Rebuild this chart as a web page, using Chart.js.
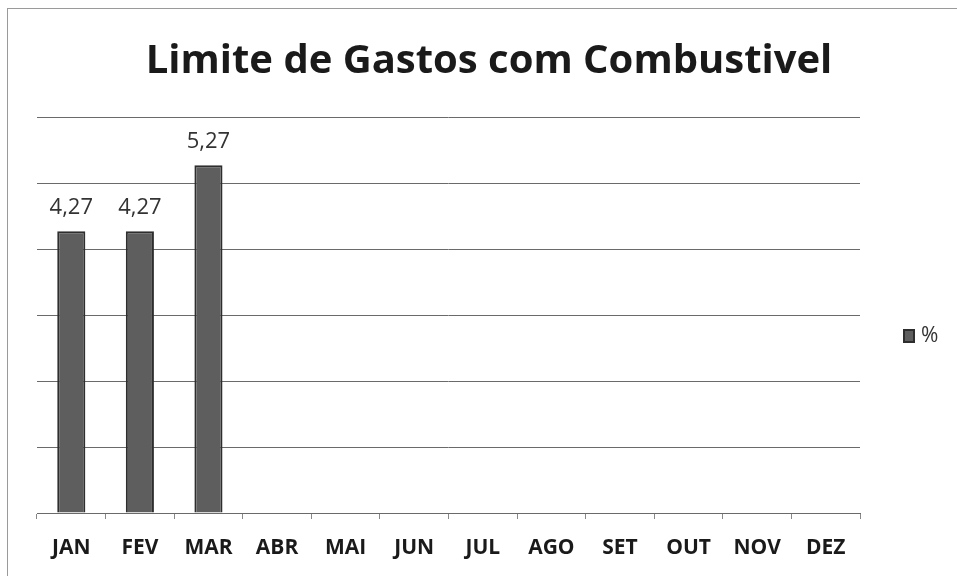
<!DOCTYPE html>
<html>
<head>
<meta charset="utf-8">
<script src="https://cdn.jsdelivr.net/npm/chart.js@4/dist/chart.umd.min.js"></script>
<style>
    body { margin: 0; background: #fff; }
    #wrap { position: relative; width: 957px; height: 576px; }
    #frame {
        position: absolute; left: 7px; top: 8px; right: -2px; bottom: -2px;
        border-left: 1px solid #9a9a9a; border-top: 1px solid #9a9a9a;
        pointer-events: none;
    }
</style>
</head>
<body>
<div id="wrap">
    <canvas id="gastosChart" width="957" height="576"></canvas>
    <div id="frame"></div>
</div>
<script>
const months = ['JAN', 'FEV', 'MAR', 'ABR', 'MAI', 'JUN', 'JUL', 'AGO', 'SET', 'OUT', 'NOV', 'DEZ'];
const percent = [4.27, 4.27, 5.27, null, null, null, null, null, null, null, null, null];
const yTicks = [0, 1, 2, 3, 4, 5, 6];
const seriesName = '%';
const chartTitle = 'Limite de Gastos com Combustivel';

const FONT = "'Open Sans', sans-serif";

// título desenhado à mão (no original fica um pouco à direita do centro)
const titleText = {
    id: 'titleText',
    afterDraw(chart) {
        const ctx = chart.ctx;
        ctx.save();
        ctx.font = `bold 40px ${FONT}`;
        ctx.fillStyle = '#1a1a1a';
        ctx.textAlign = 'center';
        ctx.textBaseline = 'alphabetic';
        ctx.fillText(chartTitle, 489, 73);
        ctx.restore();
    }
};

// rótulos de valor com vírgula decimal acima das barras
const valueLabels = {
    id: 'valueLabels',
    afterDatasetsDraw(chart) {
        const ctx = chart.ctx;
        ctx.save();
        ctx.font = `22px ${FONT}`;
        ctx.fillStyle = '#333';
        ctx.textAlign = 'center';
        ctx.textBaseline = 'alphabetic';
        chart.data.datasets.forEach((ds, i) => {
            chart.getDatasetMeta(i).data.forEach((bar, idx) => {
                const v = ds.data[idx];
                if (v === null || v === undefined) return;
                ctx.fillText(v.toFixed(2).replace('.', ','), bar.x, bar.y - 17);
            });
        });
        ctx.restore();
    }
};

// legenda à direita: quadrado + "%"
const sideLegend = {
    id: 'sideLegend',
    afterDraw(chart) {
        const ctx = chart.ctx;
        const ds = chart.data.datasets[0];
        ctx.save();
        ctx.fillStyle = ds.backgroundColor;
        ctx.strokeStyle = ds.borderColor;
        ctx.lineWidth = 2;
        ctx.fillRect(904, 330, 10, 12);
        ctx.strokeRect(904, 330, 10, 12);
        ctx.font = `21px ${FONT}`;
        ctx.fillStyle = '#333';
        ctx.textAlign = 'left';
        ctx.textBaseline = 'middle';
        ctx.fillText(ds.label, 921, 336);
        ctx.restore();
    }
};

new Chart(document.getElementById('gastosChart').getContext('2d'), {
    type: 'bar',
    data: {
        labels: months,
        datasets: [{
            label: seriesName,
            data: percent,
            backgroundColor: '#5e5e5e',
            borderColor: '#2e2e2e',
            borderWidth: 2,
            categoryPercentage: 1,
            barPercentage: 0.41
        }]
    },
    options: {
        responsive: false,
        animation: false,
        layout: { padding: { left: 37, right: 97, top: 117, bottom: 0 } },
        plugins: {
            legend: { display: false },
            tooltip: { enabled: false },
            title: { display: false }
        },
        scales: {
            y: {
                min: yTicks[0],
                max: yTicks[yTicks.length - 1],
                afterBuildTicks: axis => { axis.ticks = yTicks.map(v => ({ value: v })); },
                ticks: { display: false },
                border: { display: false },
                grid: { color: '#6a6a6a', lineWidth: 1, drawTicks: false }
            },
            x: {
                afterFit: axis => { axis.height = 63; },
                border: { display: true, color: '#6a6a6a', width: 1 },
                grid: { drawOnChartArea: false, drawTicks: true, tickLength: 6, color: '#888', offset: true },
                ticks: {
                    color: '#1a1a1a',
                    padding: 16,
                    maxRotation: 0,
                    font: { family: FONT, size: 21, weight: 'bold', lineHeight: 1.2 }
                }
            }
        }
    },
    plugins: [titleText, valueLabels, sideLegend]
});
</script>
</body>
</html>
